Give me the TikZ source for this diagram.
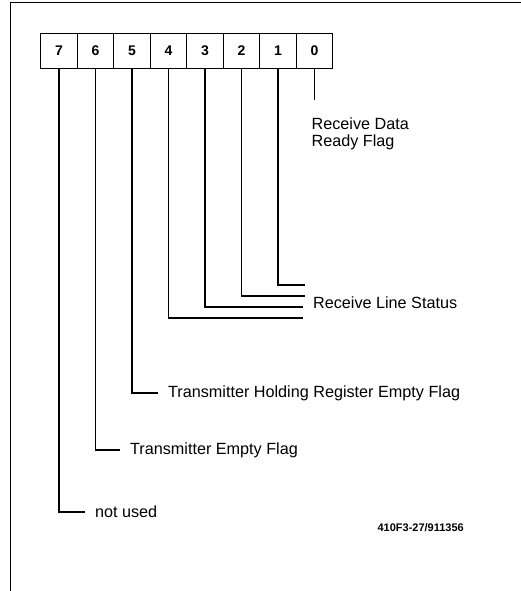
\documentclass[tikz,border=0pt]{standalone}
\usepackage{fontspec}
\setmainfont{Liberation Sans}
\usetikzlibrary{positioning}
\begin{document}
\begin{tikzpicture}[x=1pt,y=-1pt,line width=1.2pt]
	\tikzstyle{bit}=[draw,minimum width=36.5pt,minimum height=34.5pt,inner sep=0pt,font=\bfseries\fontsize{14}{14}\selectfont]
	\tikzstyle{flag}=[anchor=west,inner xsep=9.5pt,inner ysep=0pt,align=left,font=\fontsize{16.2}{17}\selectfont]
	\tikzstyle{figno}=[anchor=west,inner sep=0pt,font=\bfseries\fontsize{11}{12}\selectfont]

	\useasboundingbox (0,0) rectangle (521,591);
	\draw[line width=1pt] (10.5,591) -- (10.5,3) -- (521,3);

	% register bits
	\foreach \b [count=\i from 0] in {7,6,5,4,3,2,1,0}
		\node[bit] (b\b) at (59+36.5*\i,51) {\b};

	% labels
	\node[flag,inner xsep=0pt] (rdr) at (311,134) {Receive Data\\Ready Flag};
	\node[flag] (rls) at (303,303) {Receive Line Status};
	\node[flag] (thr) at (158,393) {Transmitter Holding Register Empty Flag};
	\node[flag] (tef) at (120,450) {Transmitter Empty Flag};
	\node[flag] (nu) at (85,512) {not used};
	\node[figno] (fig) at (377,528) {410F3-27/911356};

	\coordinate (e0) at (b0 |- 0,100);
	\coordinate (e1) at (305,285);
	\coordinate (e2) at (305,296);
	\coordinate (e3) at (303,307);
	\coordinate (e4) at (303,318);

	\draw (b0) -- (e0);
	\draw (b1) |- (e1);
	\draw (b2) |- (e2);
	\draw (b3) |- (e3);
	\draw (b4) |- (e4);
	\draw (b5) |- (thr);
	\draw (b6) |- (tef);
	\draw (b7) |- (nu);
\end{tikzpicture}
\end{document}
